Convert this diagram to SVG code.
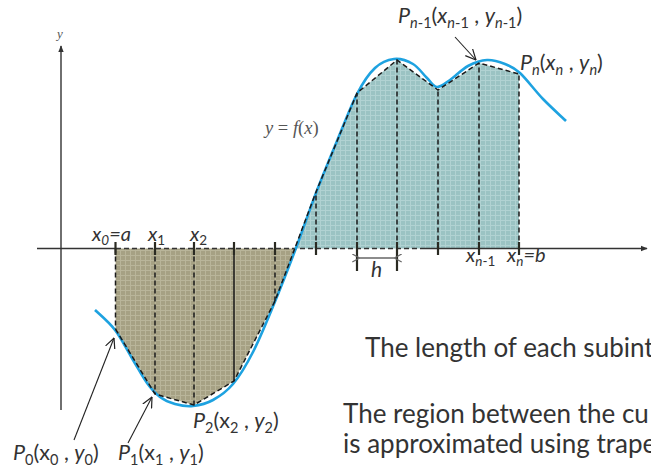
<svg xmlns="http://www.w3.org/2000/svg" width="651" height="471" viewBox="0 0 651 471">
<defs>
<pattern id="gridOlive" width="5" height="5" patternUnits="userSpaceOnUse">
<rect width="5" height="5" fill="#a6a184"/>
<path d="M0 0.5H5M0.5 0V5" stroke="#b9b59a" stroke-width="1"/>
</pattern>
<pattern id="gridTeal" width="5" height="5" patternUnits="userSpaceOnUse">
<rect width="5" height="5" fill="#9bc3c3"/>
<path d="M0 0.5H5M0.5 0V5" stroke="#b1d2d2" stroke-width="1"/>
</pattern>
<marker id="tri" viewBox="0 0 10 10" refX="9" refY="5" markerWidth="7" markerHeight="7" orient="auto" markerUnits="userSpaceOnUse">
<path d="M0 1L10 5L0 9Z" fill="#333"/>
</marker>
<marker id="open" viewBox="0 0 10 10" refX="9.5" refY="5" markerWidth="11" markerHeight="11" orient="auto-start-reverse" markerUnits="userSpaceOnUse">
<path d="M0 0.5L9.5 5L0 9.5" fill="none" stroke="#222" stroke-width="1.1"/>
</marker>
<marker id="openG" viewBox="0 0 10 10" refX="1" refY="5" markerWidth="9" markerHeight="9" orient="auto-start-reverse" markerUnits="userSpaceOnUse">
<path d="M9 0.5L1 5L9 9.5" fill="none" stroke="#666" stroke-width="1.3"/>
</marker>
</defs>
<style>
.lbl{font-family:Lato,"Open Sans","Liberation Sans",sans-serif;fill:#333;}
.it{font-style:italic;}
.body{font-family:Lato,"Open Sans","Liberation Sans",sans-serif;fill:#333;font-size:26px;}
.math{font-family:"Liberation Serif","DejaVu Serif",serif;fill:#555;font-style:italic;}
.dash{stroke:#1a1a1a;stroke-width:1.5;stroke-dasharray:5 3;fill:none;}
.tick{stroke:#2a2a22;stroke-width:2.2;}
.axis{stroke:#333;stroke-width:1.4;fill:none;}
.ptr{stroke:#222;stroke-width:1.1;fill:none;}
</style>

<g id="regions">
<polygon id="region-neg" points="115.5,248.5 115.5,329 155,394 194,405 234,381 275,301 294.7,248.5" fill="url(#gridOlive)"/>
<polygon id="region-pos" points="294.7,248.5 316,192 357,93 397,60 438,90 479,63 519,74 519,248.5" fill="url(#gridTeal)"/>
</g>

<g id="axes">
<line class="axis" x1="37" y1="248.5" x2="116" y2="248.5"/>
<line x1="116" y1="248.5" x2="425" y2="248.5" stroke="#333" stroke-width="1.4" stroke-dasharray="5 3"/>
<line class="axis" x1="425" y1="248.5" x2="647" y2="248.5" marker-end="url(#tri)"/>
<line class="axis" x1="61" y1="410" x2="61" y2="46" marker-end="url(#tri)"/>
<text class="math" x="57" y="38" font-size="13">y</text>
</g>

<g id="curve">
<path d="M95,310 C98.3,313.3 108.7,321.7 115,330 C121.3,338.3 127.7,351.2 133,360 C138.3,368.8 142.5,376.8 147,383 C151.5,389.2 155.3,393.5 160,397 C164.7,400.5 169.5,402.5 175,404 C180.5,405.5 186.7,406.7 193,406 C199.3,405.3 206.3,403.7 213,400 C219.7,396.3 226.3,392 233,384 C239.7,376 246.2,365.3 253,352 C259.8,338.7 266.8,321.3 274,304 C281.2,286.7 289,266.5 296,248 C303,229.5 309.2,210.8 316,193 C322.8,175.2 330.2,157.5 337,141 C343.8,124.5 350.7,106.2 357,94 C363.3,81.8 368.8,73.8 375,68 C381.2,62.2 387.7,59.7 394,59 C400.3,58.3 407.5,60.8 413,64 C418.5,67.2 423,74.2 427,78 C431,81.8 433.2,86.7 437,87 C440.8,87.3 444.8,83.5 450,80 C455.2,76.5 461.8,69.3 468,66 C474.2,62.7 480.8,60.3 487,60 C493.2,59.7 499.5,61.8 505,64 C510.5,66.2 513.7,67.2 520,73 C526.3,78.8 535.3,91 543,99 C550.7,107 562.2,117.3 566,121" fill="none" stroke="#1ea2e0" stroke-width="2.6"/>
<text class="math" x="265" y="134" font-size="18.5"><tspan>y</tspan><tspan font-style="normal"> = </tspan><tspan>f</tspan><tspan font-style="normal">(</tspan><tspan>x</tspan><tspan font-style="normal">)</tspan></text>
</g>

<g id="trapezoids">
<polyline class="dash" points="115.5,329 155,394 194,405 234,381 275,301 316,192 357,93 397,60 438,90 479,63 519,74"/>
<line class="dash" x1="115.5" y1="248.5" x2="115.5" y2="329"/>
<line class="dash" x1="155" y1="248.5" x2="155" y2="394"/>
<line class="dash" x1="194" y1="248.5" x2="194" y2="405"/>
<line x1="234" y1="248.5" x2="234" y2="381" stroke="#1a1a1a" stroke-width="1.5"/>
<line class="dash" x1="275" y1="248.5" x2="275" y2="301"/>
<line class="dash" x1="316" y1="248.5" x2="316" y2="192"/>
<line class="dash" x1="357" y1="248.5" x2="357" y2="93"/>
<line class="dash" x1="397" y1="248.5" x2="397" y2="60"/>
<line class="dash" x1="438" y1="248.5" x2="438" y2="90"/>
<line class="dash" x1="479" y1="248.5" x2="479" y2="63"/>
<line class="dash" x1="519" y1="248.5" x2="519" y2="74"/>
</g>

<g id="ticks">
<line class="tick" x1="115.5" y1="242" x2="115.5" y2="255"/>
<line class="tick" x1="155" y1="242" x2="155" y2="255"/>
<line class="tick" x1="194" y1="242" x2="194" y2="255"/>
<line class="tick" x1="234" y1="242" x2="234" y2="255"/>
<line class="tick" x1="275" y1="242" x2="275" y2="255"/>
<line class="tick" x1="316" y1="242" x2="316" y2="255"/>
<line class="tick" x1="357" y1="242" x2="357" y2="271"/>
<line class="tick" x1="397" y1="242" x2="397" y2="271"/>
<line class="tick" x1="438" y1="242" x2="438" y2="255"/>
<line class="tick" x1="479" y1="242" x2="479" y2="255"/>
<line class="tick" x1="519" y1="242" x2="519" y2="255"/>
</g>

<g id="connectors">
<line x1="359.5" y1="258" x2="394.5" y2="258" stroke="#666" stroke-width="1.3" marker-start="url(#openG)" marker-end="url(#openG)"/>
<line class="ptr" x1="455" y1="37" x2="476" y2="60" marker-end="url(#open)"/>
<line class="ptr" x1="74" y1="440" x2="114" y2="338" marker-end="url(#open)"/>
<line class="ptr" x1="128" y1="443" x2="152" y2="397" marker-end="url(#open)"/>
</g>

<g id="axis-labels" class="lbl it" font-size="20">
<text x="92" y="241">x<tspan font-size="13.5" dy="4">0</tspan><tspan dy="-4">=a</tspan></text>
<text x="148" y="241">x<tspan font-size="13.5" dy="4" font-style="normal">1</tspan></text>
<text x="190" y="241">x<tspan font-size="13.5" dy="4" font-style="normal">2</tspan></text>
<text x="466" y="262">x<tspan font-size="13.5" dy="4">n</tspan><tspan font-size="13.5" font-style="normal">-1</tspan></text>
<text x="507" y="262">x<tspan font-size="13.5" dy="4">n</tspan><tspan dy="-4">=b</tspan></text>
<text x="371" y="277" font-size="21">h</text>
</g>

<g id="point-labels" class="lbl" font-size="21.5">
<text x="398" y="23" class="it">P<tspan font-size="14.5" dy="5">n</tspan><tspan font-size="14.5" font-style="normal">-1</tspan><tspan dy="-5" font-style="normal">(</tspan>x<tspan font-size="14.5" dy="5">n</tspan><tspan font-size="14.5" font-style="normal">-1</tspan><tspan dy="-5" font-style="normal"> , </tspan>y<tspan font-size="14.5" dy="5">n</tspan><tspan font-size="14.5" font-style="normal">-1</tspan><tspan dy="-5" font-style="normal">)</tspan></text>
<text x="520" y="70" class="it">P<tspan font-size="14.5" dy="5">n</tspan><tspan dy="-5" font-style="normal">(</tspan>x<tspan font-size="14.5" dy="5">n</tspan><tspan dy="-5" font-style="normal"> , </tspan>y<tspan font-size="14.5" dy="5">n</tspan><tspan dy="-5" font-style="normal">)</tspan></text>
<text x="193" y="428"><tspan font-style="italic">P</tspan><tspan font-size="14.5" dy="5">2</tspan><tspan dy="-5">(x</tspan><tspan font-size="14.5" dy="5">2</tspan><tspan dy="-5"> , </tspan><tspan font-style="italic">y</tspan><tspan font-size="14.5" dy="5">2</tspan><tspan dy="-5">)</tspan></text>
<text x="13" y="460"><tspan font-style="italic">P</tspan><tspan font-size="14.5" dy="5">0</tspan><tspan dy="-5">(x</tspan><tspan font-size="14.5" dy="5">0</tspan><tspan dy="-5"> , </tspan><tspan font-style="italic">y</tspan><tspan font-size="14.5" dy="5">0</tspan><tspan dy="-5">)</tspan></text>
<text x="118" y="460"><tspan font-style="italic">P</tspan><tspan font-size="14.5" dy="5">1</tspan><tspan dy="-5">(x</tspan><tspan font-size="14.5" dy="5">1</tspan><tspan dy="-5"> , </tspan><tspan font-style="italic">y</tspan><tspan font-size="14.5" dy="5">1</tspan><tspan dy="-5">)</tspan></text>
</g>

<g id="caption">
<text class="body" x="365" y="357">The length of each subint</text>
<text class="body" x="343" y="423">The region between the cu</text>
<text class="body" x="343" y="453">is approximated using trape</text>
</g>
</svg>
